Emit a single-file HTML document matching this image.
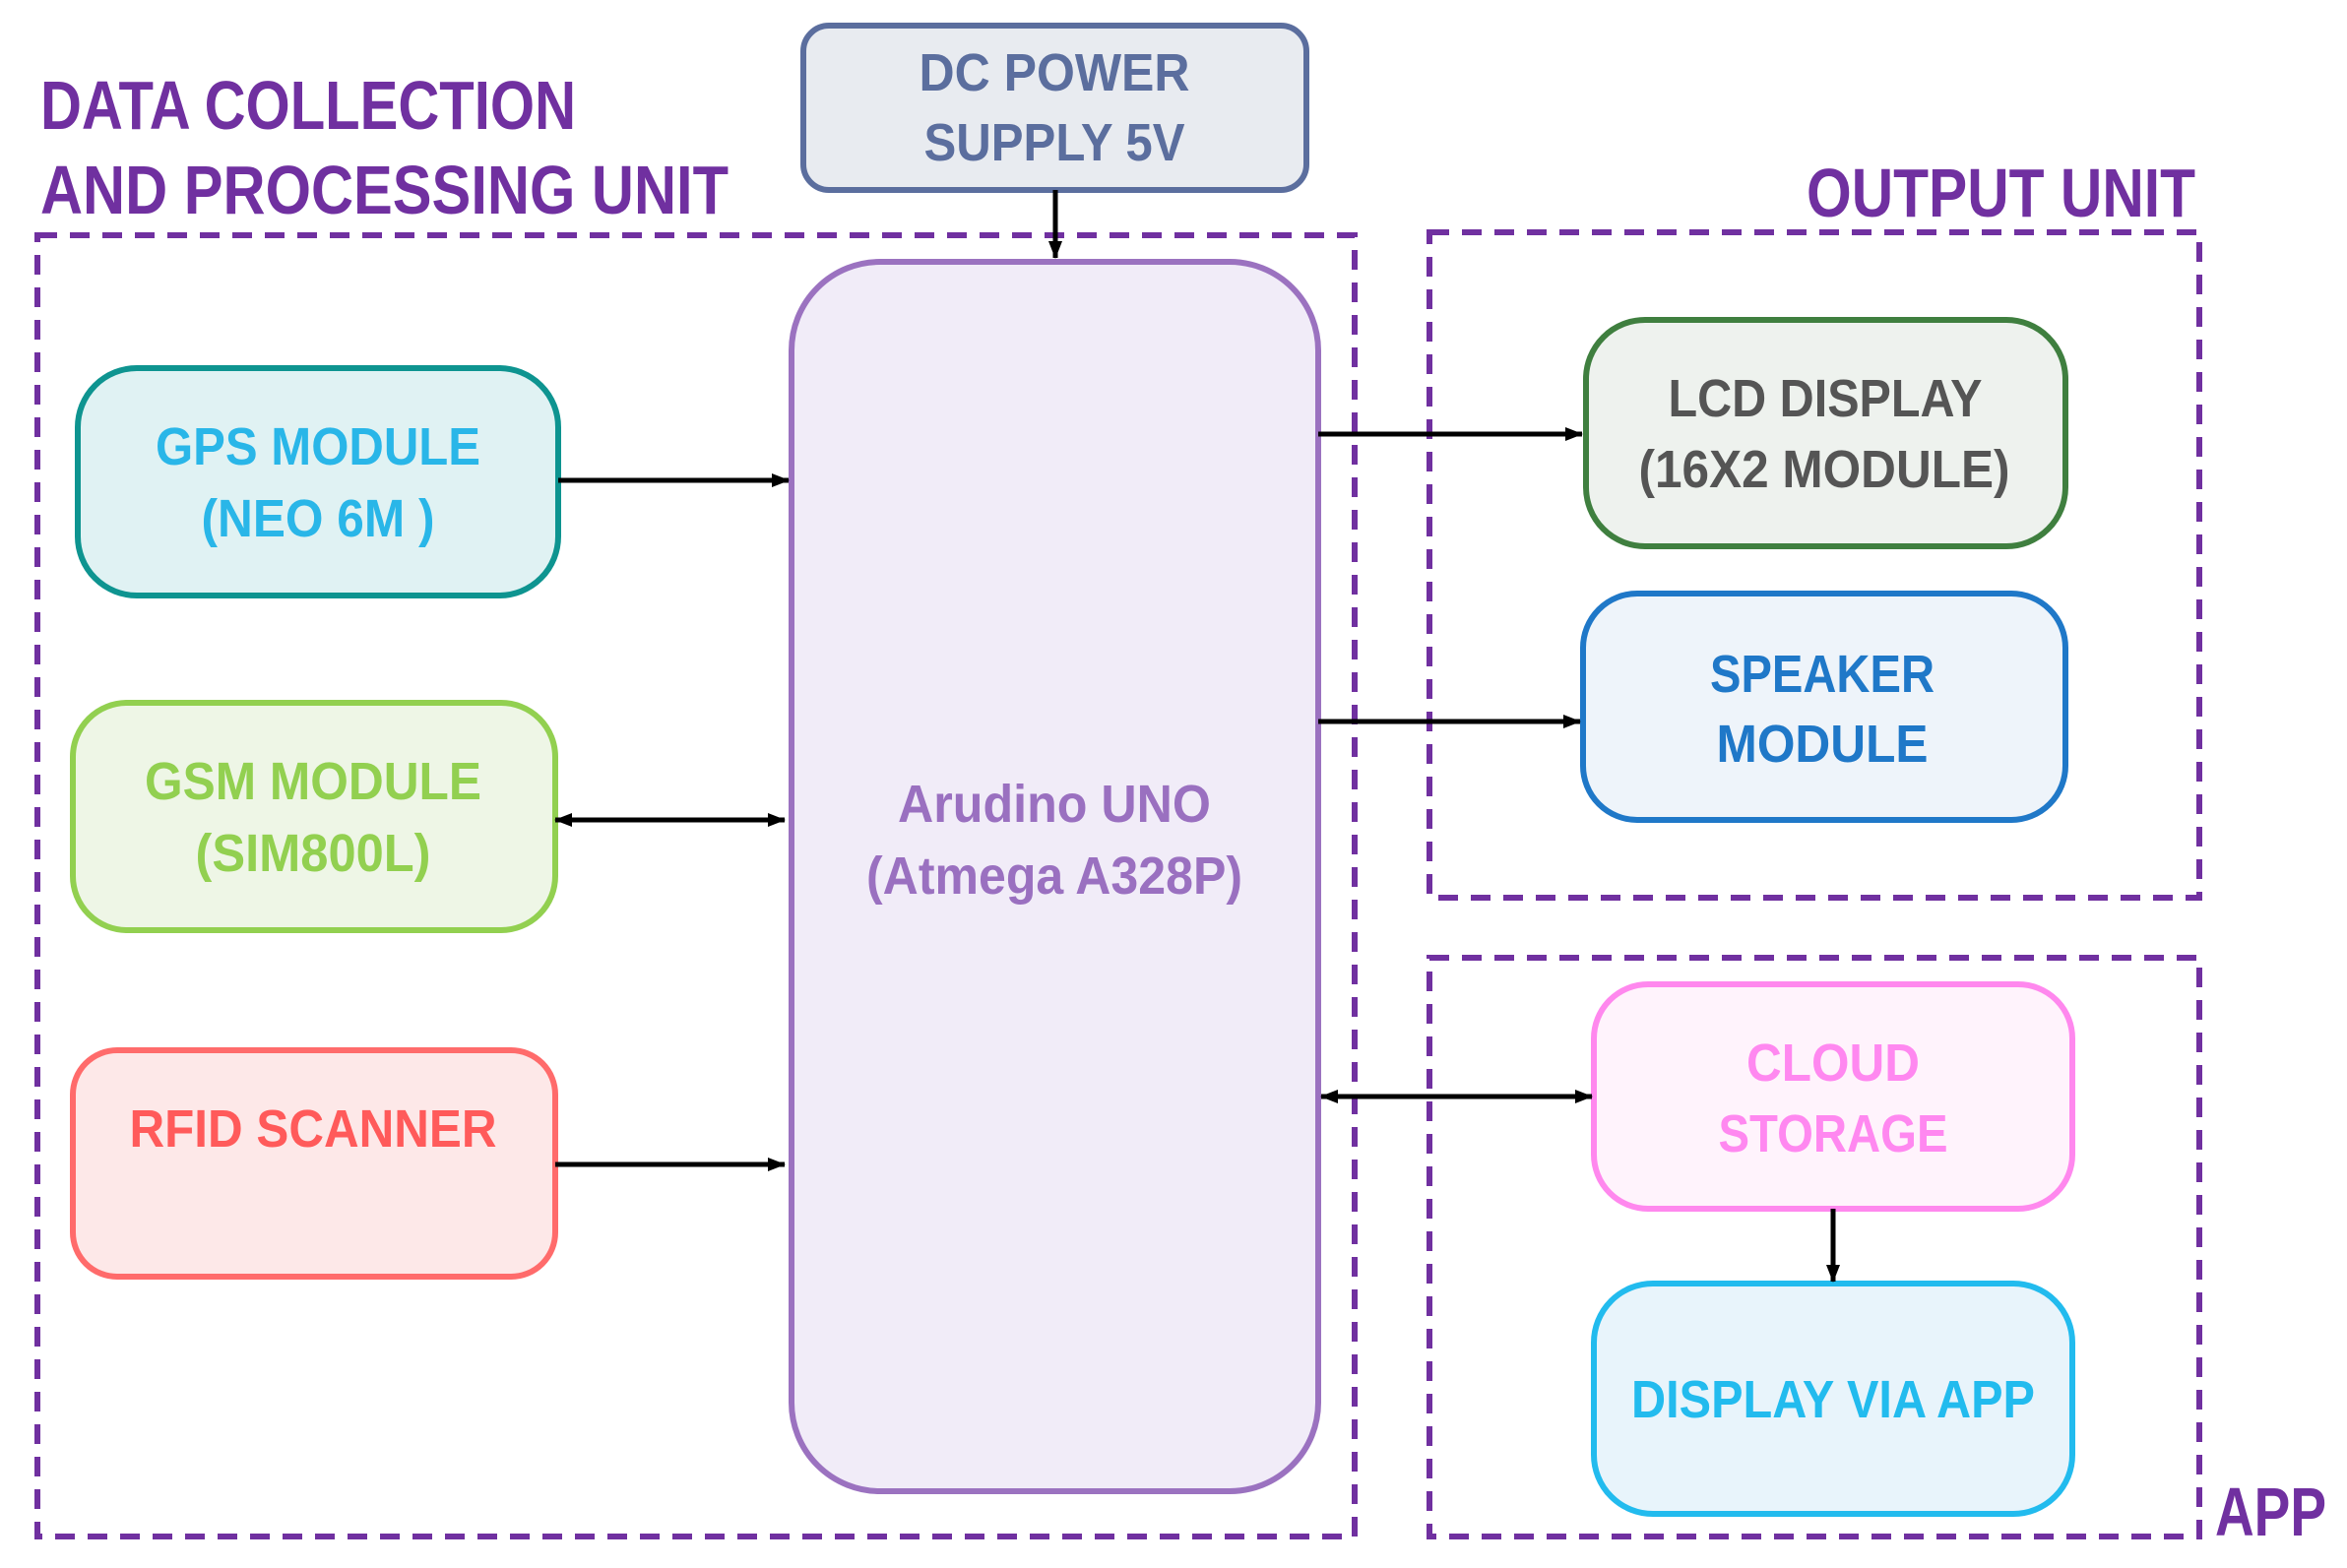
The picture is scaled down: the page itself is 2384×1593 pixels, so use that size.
<!DOCTYPE html>
<html><head><meta charset="utf-8"><style>html,body{margin:0;padding:0;background:#fff}svg{display:block}</style></head>
<body>
<svg width="2384" height="1593" viewBox="0 0 2384 1593" xmlns="http://www.w3.org/2000/svg" font-family="Liberation Sans, sans-serif" font-weight="bold">
<defs>
<marker id="ah" markerWidth="10" markerHeight="10" refX="9" refY="5" orient="auto-start-reverse" markerUnits="userSpaceOnUse"><path d="M0,0 L10,5 L0,10 z" fill="#000"/></marker>
<marker id="ah2" markerWidth="18" markerHeight="14" refX="17" refY="7" orient="auto-start-reverse" markerUnits="userSpaceOnUse"><path d="M0,0 L18,7 L0,14 z" fill="#000"/></marker>
</defs>
<g fill="none" stroke="#7030a0" stroke-width="6" stroke-dasharray="20 13">
<rect x="38" y="239" width="1338" height="1322"/>
<rect x="1452" y="236" width="782" height="676"/>
<rect x="1452" y="973" width="782" height="588"/>
</g>
<g fill="#7030a0" font-size="70">
<text x="41" y="131" textLength="544" lengthAdjust="spacingAndGlyphs">DATA COLLECTION</text>
<text x="41" y="217" textLength="699" lengthAdjust="spacingAndGlyphs">AND PROCESSING UNIT</text>
<text x="1835" y="220" textLength="395" lengthAdjust="spacingAndGlyphs">OUTPUT UNIT</text>
<text x="2250" y="1560" textLength="113" lengthAdjust="spacingAndGlyphs">APP</text>
</g>
<g stroke-width="6">
<rect x="816" y="26" width="511" height="167" rx="26" fill="#e8ebf0" stroke="#5b6e9e"/>
<rect x="804" y="266" width="535" height="1249" rx="90" fill="#f1ecf8" stroke="#9b72c0"/>
<rect x="79" y="374" width="488" height="231" rx="60" fill="#e0f2f3" stroke="#0e9490"/>
<rect x="74" y="714" width="490" height="231" rx="55" fill="#eef6e6" stroke="#92d050"/>
<rect x="74" y="1067" width="490" height="230" rx="45" fill="#fde8e8" stroke="#ff6b6b"/>
<rect x="1611" y="325" width="487" height="230" rx="60" fill="#eef2ee" stroke="#3f7f3f"/>
<rect x="1608" y="603" width="490" height="230" rx="55" fill="#eef4fa" stroke="#1f78c8"/>
<rect x="1619" y="1000" width="486" height="228" rx="55" fill="#fff3fc" stroke="#ff88ee"/>
<rect x="1619" y="1304" width="486" height="234" rx="60" fill="#e8f4fb" stroke="#22bbee"/>
</g>
<g font-size="54" text-anchor="middle" lengthAdjust="spacingAndGlyphs">
<text x="1071" y="92" fill="#5b6e9e" textLength="275" lengthAdjust="spacingAndGlyphs">DC POWER</text>
<text x="1071" y="163" fill="#5b6e9e" textLength="265" lengthAdjust="spacingAndGlyphs">SUPPLY 5V</text>
<text x="1071" y="835" fill="#9a70c0" textLength="318" lengthAdjust="spacingAndGlyphs">Arudino UNO</text>
<text x="1071" y="908" fill="#9a70c0" textLength="382" lengthAdjust="spacingAndGlyphs">(Atmega A328P)</text>
<text x="323" y="472" fill="#29b6e8" textLength="330" lengthAdjust="spacingAndGlyphs">GPS MODULE</text>
<text x="323" y="545" fill="#29b6e8" textLength="237" lengthAdjust="spacingAndGlyphs">(NEO 6M )</text>
<text x="318" y="812" fill="#92d050" textLength="342" lengthAdjust="spacingAndGlyphs">GSM MODULE</text>
<text x="318" y="885" fill="#92d050" textLength="239" lengthAdjust="spacingAndGlyphs">(SIM800L)</text>
<text x="318" y="1165" fill="#ff5a5a" textLength="373" lengthAdjust="spacingAndGlyphs">RFID SCANNER</text>
<text x="1854" y="423" fill="#555555" textLength="319" lengthAdjust="spacingAndGlyphs">LCD DISPLAY</text>
<text x="1853" y="495" fill="#555555" textLength="377" lengthAdjust="spacingAndGlyphs">(16X2 MODULE)</text>
<text x="1851" y="703" fill="#1f78c8" textLength="228" lengthAdjust="spacingAndGlyphs">SPEAKER</text>
<text x="1851" y="774" fill="#1f78c8" textLength="215" lengthAdjust="spacingAndGlyphs">MODULE</text>
<text x="1862" y="1098" fill="#ff88f0" textLength="176" lengthAdjust="spacingAndGlyphs">CLOUD</text>
<text x="1862" y="1170" fill="#ff88f0" textLength="233" lengthAdjust="spacingAndGlyphs">STORAGE</text>
<text x="1862" y="1440" fill="#22bbee" textLength="410" lengthAdjust="spacingAndGlyphs">DISPLAY VIA APP</text>
</g>
<g stroke="#000" stroke-width="5" fill="none">
<line x1="1072" y1="193" x2="1072" y2="262" marker-end="url(#ah2)"/>
<line x1="567" y1="488" x2="801" y2="488" marker-end="url(#ah2)"/>
<line x1="564" y1="833" x2="797" y2="833" marker-start="url(#ah2)" marker-end="url(#ah2)"/>
<line x1="564" y1="1183" x2="797" y2="1183" marker-end="url(#ah2)"/>
<line x1="1339" y1="441" x2="1607" y2="441" marker-end="url(#ah2)"/>
<line x1="1339" y1="733" x2="1605" y2="733" marker-end="url(#ah2)"/>
<line x1="1342" y1="1114" x2="1617" y2="1114" marker-start="url(#ah2)" marker-end="url(#ah2)"/>
<line x1="1862" y1="1228" x2="1862" y2="1302" marker-end="url(#ah2)"/>
</g>
</svg>
</body></html>
